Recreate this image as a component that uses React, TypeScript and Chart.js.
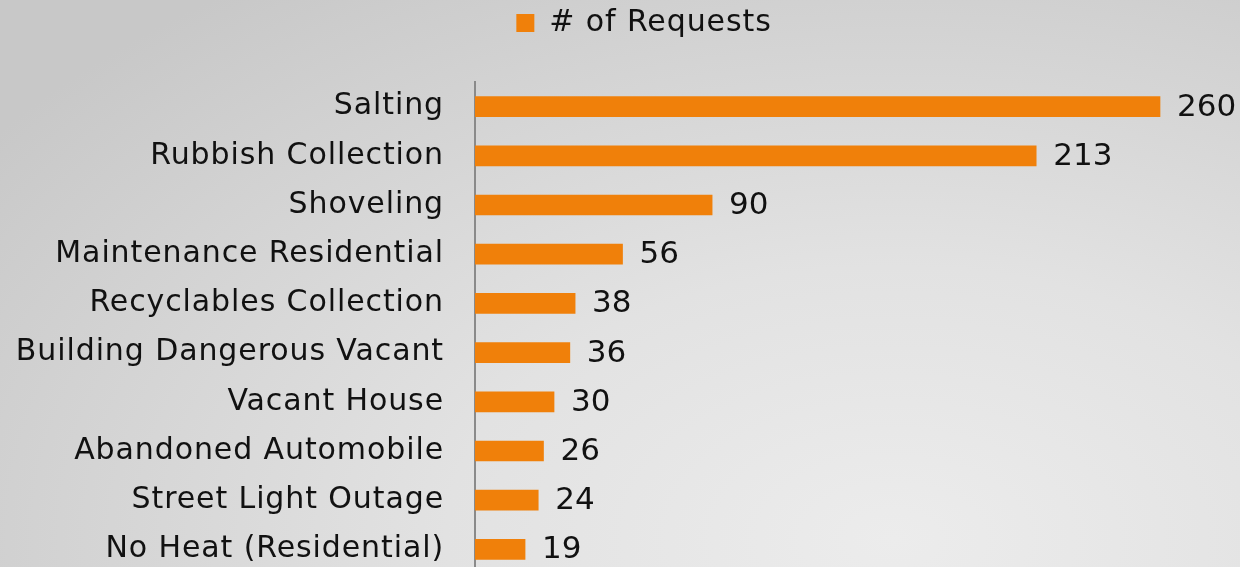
import React, { useEffect, useRef } from "react";
import { Chart, registerables } from "chart.js";

Chart.register(...registerables);

const categories = [
  "Salting",
  "Rubbish Collection",
  "Shoveling",
  "Maintenance Residential",
  "Recyclables Collection",
  "Building Dangerous Vacant",
  "Vacant House",
  "Abandoned Automobile",
  "Street Light Outage",
  "No Heat (Residential)",
];
const requests = [260, 213, 90, 56, 38, 36, 30, 26, 24, 19];
const seriesLabel = "# of Requests";

const FONT = "'DejaVu Sans', Verdana, sans-serif";
const SPACING = "0.9px";

const spacingPlugin = {
  id: "spacing",
  beforeUpdate(chart: any) {
    (chart.ctx as any).letterSpacing = SPACING;
  },
  beforeLayout(chart: any) {
    (chart.ctx as any).letterSpacing = SPACING;
  },
  beforeDraw(chart: any) {
    (chart.ctx as any).letterSpacing = SPACING;
  },
};

const legendGap = {
  id: "legendGap",
  beforeInit(chart: any) {
    const legend = chart.legend;
    if (!legend) return;
    const orig = legend.fit;
    legend.fit = function () {
      orig.call(this);
      this.height += 34;
    };
  },
};

const valueLabels = {
  id: "valueLabels",
  afterDatasetsDraw(chart: any) {
    const ctx = chart.ctx;
    const meta = chart.getDatasetMeta(0);
    ctx.save();
    (ctx as any).letterSpacing = "0px";
    ctx.font = `31px ${FONT}`;
    ctx.fillStyle = "#111111";
    ctx.textAlign = "left";
    ctx.textBaseline = "middle";
    meta.data.forEach((bar: any, i: number) => {
      ctx.fillText(String(chart.data.datasets[0].data[i]), bar.x + 17, bar.y + 1);
    });
    ctx.restore();
  },
};

export default function App() {
  const ref = useRef<HTMLCanvasElement | null>(null);
  useEffect(() => {
    document.body.style.margin = "0";
    document.body.style.overflow = "hidden";
    const chart = new Chart(ref.current as HTMLCanvasElement, {
      type: "bar",
      data: {
        labels: categories,
        datasets: [
          {
            label: seriesLabel,
            data: requests,
            backgroundColor: "#f0800a",
            borderWidth: 0,
            barThickness: 20,
          },
        ],
      },
      options: {
        indexAxis: "y",
        animation: false,
        responsive: false,
        layout: { padding: { top: 0, right: -48, bottom: 0, left: 0 } },
        plugins: {
          legend: {
            display: true,
            position: "top",
            labels: {
              font: { family: FONT, size: 30 },
              color: "#111111",
              boxWidth: 18,
              boxHeight: 18,
              padding: 8,
            },
          },
          tooltip: { enabled: false },
        },
        scales: {
          x: {
            display: false,
            min: 0,
            max: 290.36,
          },
          y: {
            grid: { display: false, drawTicks: false },
            border: { display: true, color: "#8a8a8a", width: 2 },
            ticks: {
              font: { family: FONT, size: 30 },
              color: "#111111",
              padding: 31,
              autoSkip: false,
            },
            afterFit(scale: any) {
              scale.width = 475;
              scale.paddingTop = 0;
              scale.paddingBottom = 0;
              scale.paddingLeft = 0;
              scale.paddingRight = 0;
            },
          },
        },
      },
      plugins: [spacingPlugin, legendGap, valueLabels],
    });
    return () => chart.destroy();
  }, []);
  return (
    <div
      style={{
        position: "fixed",
        left: 0,
        top: 0,
        width: 1240,
        height: 567,
        overflow: "hidden",
        background:
          "radial-gradient(ellipse 90% 120% at 72% 95%, #ececec 0%, #e2e2e2 40%, #c8c8c8 100%)",
      }}
    >
      <canvas ref={ref} width={1240} height={574} style={{ display: "block" }} />
    </div>
  );
}
